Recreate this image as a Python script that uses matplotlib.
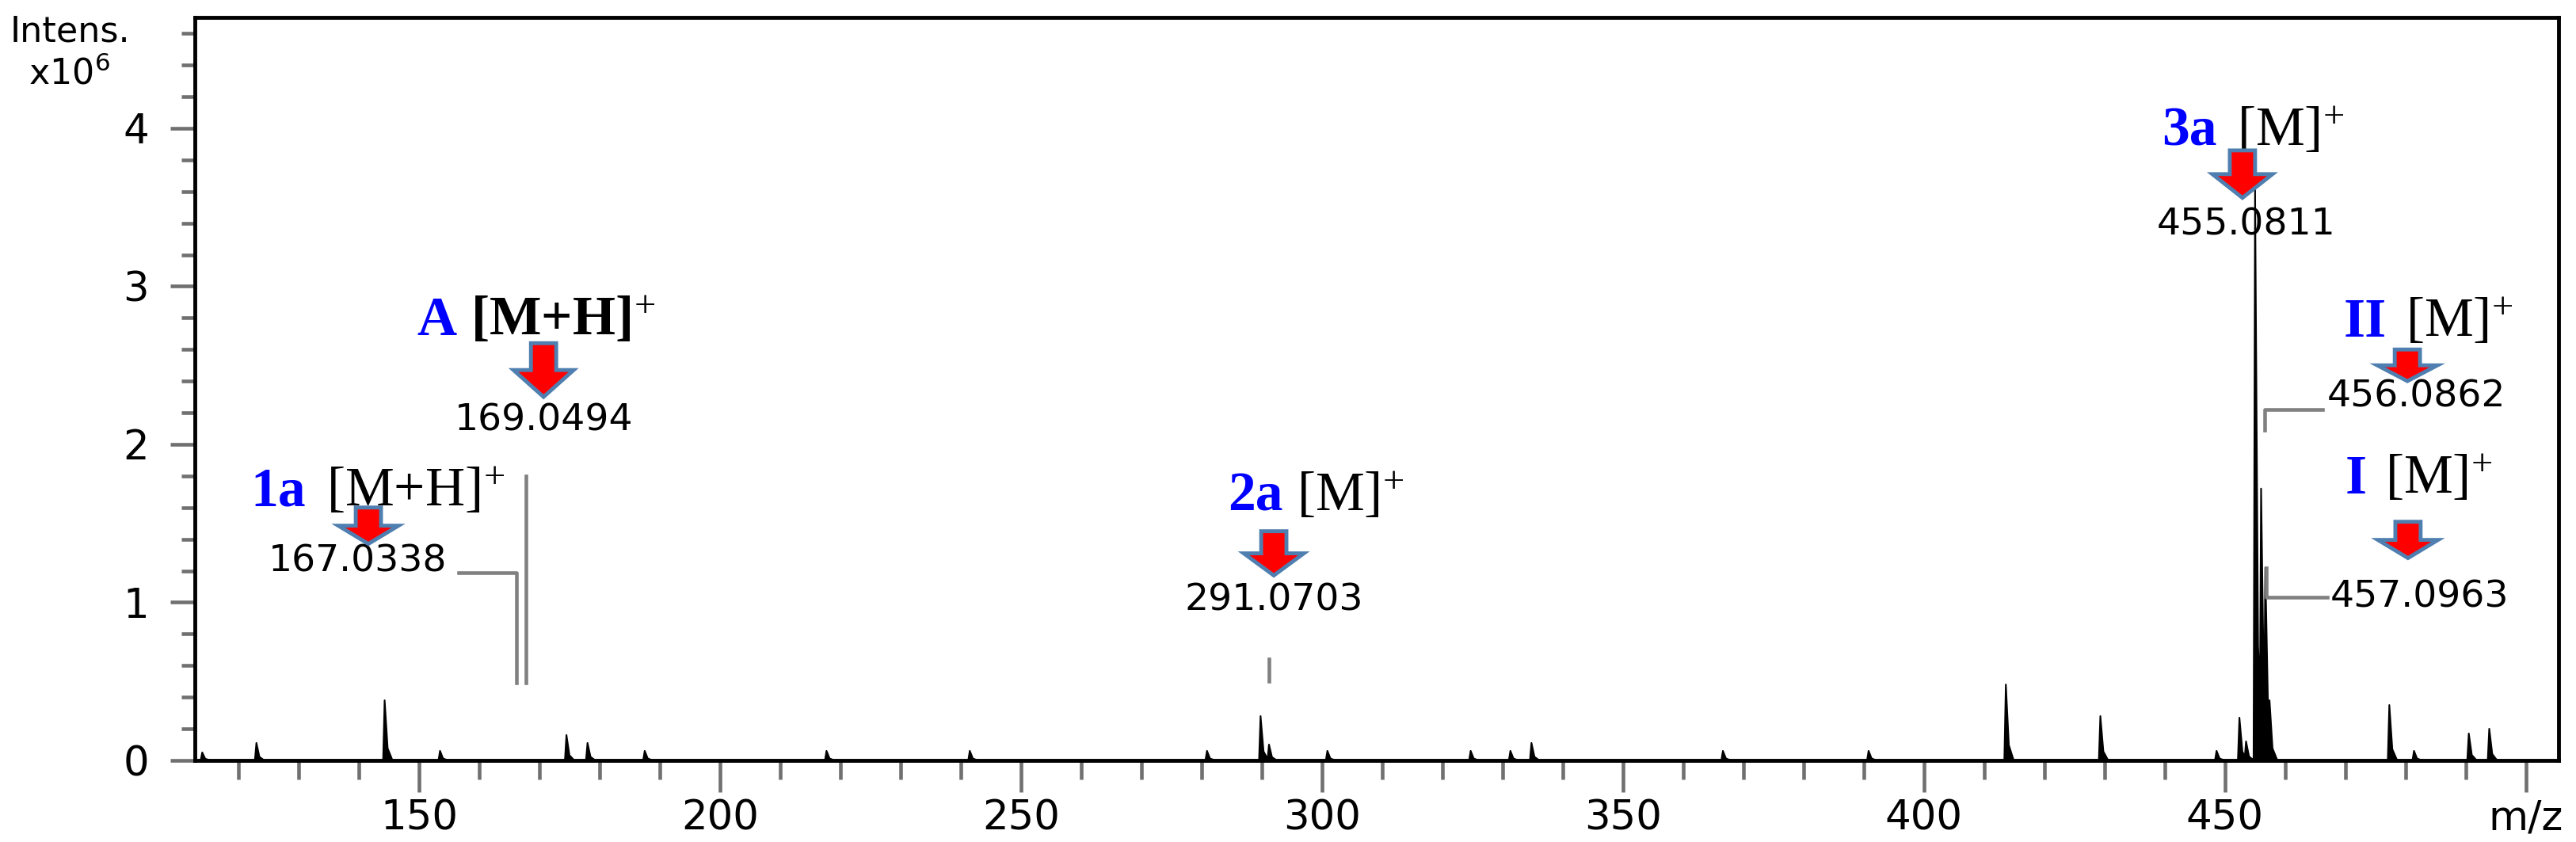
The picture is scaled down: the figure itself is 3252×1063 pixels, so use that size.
import matplotlib
matplotlib.use("Agg")
import matplotlib.pyplot as plt
from matplotlib.patches import FancyArrow
from matplotlib.ticker import MultipleLocator

plt.rcParams["mathtext.fontset"] = "custom"
plt.rcParams["mathtext.rm"] = "Liberation Serif"
plt.rcParams["mathtext.it"] = "Liberation Serif:italic"
plt.rcParams["mathtext.bf"] = "Liberation Serif:bold"

# peaks (m/z, intensity x1e6)
peak_mz = [114.0, 123.0, 144.3, 153.5, 174.5, 178.0, 187.5, 217.7, 241.5, 280.9,
           289.8, 291.2, 300.9, 324.7, 331.3, 334.8, 366.6, 390.8, 413.6, 429.3,
           448.6, 452.4, 453.5, 455.0, 456.0, 456.7, 457.4, 477.3, 481.4, 490.5, 493.9]
peak_int = [0.05, 0.11, 0.38, 0.06, 0.16, 0.11, 0.06, 0.06, 0.06, 0.06,
            0.28, 0.10, 0.06, 0.06, 0.06, 0.11, 0.06, 0.06, 0.48, 0.28,
            0.06, 0.27, 0.12, 3.62, 1.72, 1.22, 0.38, 0.35, 0.06, 0.17, 0.20]

xticks = [150, 200, 250, 300, 350, 400, 450, 500]
xticklabels = ["150", "200", "250", "300", "350", "400", "450", "m/z"]
yticks = [0, 1, 2, 3, 4]

fig = plt.figure(figsize=(32.52, 10.63), dpi=100)
ax = fig.add_axes([0.0757, 0.097, 0.9175, 0.882])
ax.set_xlim(112.8, 505.4)
ax.set_ylim(0, 4.7)

xs, ys = [112.8], [0.0]
for m, h in sorted(zip(peak_mz, peak_int)):
    xs += [m - 0.25, m, m + 0.5, m + 1.3]
    ys += [0.0, h, 0.2 * h, 0.0]
xs.append(505.4); ys.append(0.0)
ax.fill(xs, ys, color="black", lw=0)
ax.plot(xs, ys, color="black", lw=1.5)

for s in ax.spines.values():
    s.set_linewidth(3.5)
ax.set_xticks(xticks)
ax.set_xticklabels(xticklabels)
ax.set_yticks(yticks)
ax.xaxis.set_minor_locator(MultipleLocator(10))
ax.yaxis.set_minor_locator(MultipleLocator(0.2))
tc = "#707070"
ax.tick_params(axis="both", which="major", labelsize=37, color=tc, width=3.3)
ax.tick_params(axis="x", which="major", length=29, pad=6)
ax.tick_params(axis="x", which="minor", length=17, color=tc, width=3.3)
ax.tick_params(axis="y", which="major", length=22, pad=20)
ax.tick_params(axis="y", which="minor", length=12, color=tc, width=3.3)

fig.text(0.004, 0.962, "Intens.", fontsize=32, ha="left", va="center")
fig.text(0.011, 0.912, "x10$^{6}$", fontsize=32, ha="left", va="center",
         family="DejaVu Sans", math_fontfamily="dejavusans")

gray = "#808080"
ax.plot([166.2, 166.2, 156.6], [0.49, 1.19, 1.19], color=gray, lw=3.3)
ax.plot([167.8, 167.8], [0.49, 1.8], color=gray, lw=3.3)
ax.plot([291.2, 291.2], [0.5, 0.64], color=gray, lw=3.3)
ax.plot([456.6, 456.6, 466.2], [2.09, 2.22, 2.22], color=gray, lw=3.3)
ax.plot([456.9, 456.9, 467.0], [1.22, 1.03, 1.03], color=gray, lw=3.3)

def arrow(x, ytop, ytip):
    L = ytop - ytip
    ax.add_patch(FancyArrow(x, ytop, 0, -L, width=4.2, head_width=10.0,
                            head_length=0.5 * L, length_includes_head=True,
                            facecolor="red", edgecolor="#4f7fb0", lw=3.5, zorder=5))

serif = "Liberation Serif"
blue = "#0000ff"
LAB = 50

def label(xe, xs_, yb, lab, ion):
    ax.text(xe, yb, lab, color=blue, fontsize=LAB, fontweight="bold", family=serif,
            ha="right", va="baseline")
    ax.text(xs_, yb, ion, color="black", fontsize=LAB, family=serif,
            ha="left", va="baseline")

NUM = 34
label(131.2, 134.6, 1.61, "1a", r"[M+H]$^{+}$")
arrow(141.6, 1.60, 1.37); ax.text(139.8, 1.26, "167.0338", fontsize=NUM, ha="center", va="center")
label(156.3, 158.6, 2.69, "A", r"$\mathbf{[M{+}H]}^{+}$")
arrow(170.7, 2.64, 2.30); ax.text(170.7, 2.15, "169.0494", fontsize=NUM, ha="center", va="center")
label(293.5, 295.8, 1.58, "2a", r"[M]$^{+}$")
arrow(292, 1.45, 1.17); ax.text(292, 1.01, "291.0703", fontsize=NUM, ha="center", va="center")
label(448.6, 452.0, 3.89, "3a", r"[M]$^{+}$")
arrow(452.9, 3.86, 3.56); ax.text(453.5, 3.39, "455.0811", fontsize=NUM, ha="center", va="center")
label(476.9, 480.0, 2.68, "II", r"[M]$^{+}$")
arrow(480.3, 2.60, 2.40); ax.text(481.8, 2.30, "456.0862", fontsize=NUM, ha="center", va="center")
label(473.6, 476.6, 1.69, "I", r"[M]$^{+}$")
arrow(480.4, 1.51, 1.28); ax.text(482.3, 1.03, "457.0963", fontsize=NUM, ha="center", va="center")

fig.savefig("out.png", dpi=100, facecolor="white")
